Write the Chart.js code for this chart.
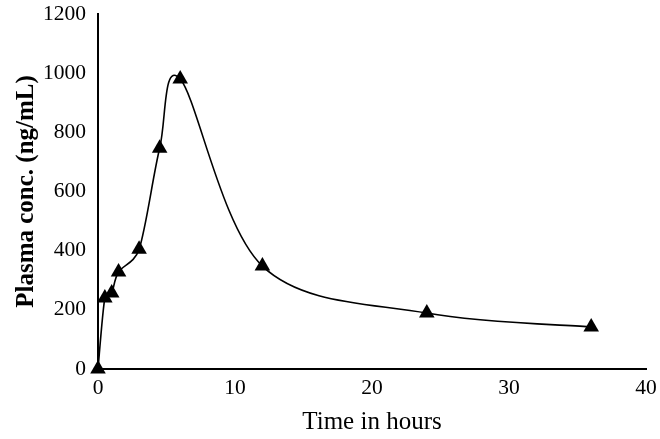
<!DOCTYPE html>
<html><head><meta charset="utf-8">
<script src="https://cdn.jsdelivr.net/npm/chart.js@4/dist/chart.umd.min.js"></script>
<style>html,body{margin:0;padding:0;background:#fff}#wrap{width:660px;height:439px}</style>
</head><body><div id="wrap"><canvas id="c" width="660" height="439"></canvas></div>
<script>
const timeHours = [0, 0.5, 1, 1.5, 3, 4.5, 6, 12, 24, 36];
const plasmaConc = [0, 240, 257, 328, 405, 746, 980, 348, 189, 142];
const xTicks = [0, 10, 20, 30, 40];
const yTicks = [0, 200, 400, 600, 800, 1000, 1200];
const xTitle = 'Time in hours';
const yTitle = 'Plasma conc. (ng/mL)';

const points = timeHours.map((t, i) => ({x: t, y: plasmaConc[i]}));
const serif = '"Liberation Serif", "Times New Roman", serif';

// Smooth curve (Catmull-Rom style Bezier, like a spreadsheet "smoothed line"),
// drawn through the points' positions as laid out by the chart's scales.
const smoothLine = {
  id: 'smoothLine',
  beforeDatasetsDraw(chart) {
    const meta = chart.getDatasetMeta(0);
    const p = meta.data.map(e => ({x: e.x, y: e.y}));
    const ctx = chart.ctx;
    const arm = (a, b, seg) => {
      let dx = (b.x - a.x) / 6, dy = (b.y - a.y) / 6;
      const len = Math.hypot(dx, dy), lim = seg / 2;
      if (len > lim && len > 0) { dx *= lim / len; dy *= lim / len; }
      return {dx, dy};
    };
    ctx.save();
    ctx.beginPath();
    ctx.moveTo(p[0].x, p[0].y);
    for (let i = 0; i < p.length - 1; i++) {
      const p0 = p[i - 1] || p[i];
      const p1 = p[i];
      const p2 = p[i + 1];
      const p3 = p[i + 2] || p[i + 1];
      const seg = Math.hypot(p2.x - p1.x, p2.y - p1.y);
      const a1 = arm(p0, p2, seg), a2 = arm(p1, p3, seg);
      ctx.bezierCurveTo(p1.x + a1.dx, p1.y + a1.dy, p2.x - a2.dx, p2.y - a2.dy, p2.x, p2.y);
    }
    ctx.strokeStyle = '#000';
    ctx.lineWidth = 1.6;
    ctx.stroke();
    ctx.restore();
  }
};

new Chart(document.getElementById('c'), {
  type: 'scatter',
  data: {datasets: [{
    data: points,
    showLine: false,
    clip: false,
    borderColor: '#000',
    backgroundColor: '#000',
    pointStyle: 'triangle',
    pointRadius: 9,
    pointBorderWidth: 0
  }]},
  plugins: [smoothLine],
  options: {
    responsive: false,
    animation: false,
    layout: {padding: {top: 14, right: 14, left: 12, bottom: 0}},
    plugins: {legend: {display: false}, tooltip: {enabled: false}},
    scales: {
      x: {
        type: 'linear', min: 0, max: 40,
        afterBuildTicks: s => { s.ticks = xTicks.map(v => ({value: v})); },
        afterFit: s => { s.height = 70; s.paddingLeft = 0; s.paddingRight = 0; },
        grid: {display: false, drawTicks: false},
        border: {display: true, color: '#000', width: 2},
        ticks: {color: '#000', font: {family: serif, size: 21.5}, padding: 6, maxRotation: 0,
                callback: v => String(v)},
        title: {display: true, text: xTitle, color: '#000', font: {family: serif, size: 25}, padding: {top: 4, bottom: 2}}
      },
      y: {
        type: 'linear', min: 0, max: 1200,
        afterBuildTicks: s => { s.ticks = yTicks.map(v => ({value: v})); },
        afterFit: s => { s.width = 86; s.paddingTop = 0; s.paddingBottom = 0; },
        grid: {display: false, drawTicks: false},
        border: {display: true, color: '#000', width: 2},
        ticks: {color: '#000', font: {family: serif, size: 21.5}, padding: 12,
                callback: v => String(v)},
        title: {display: true, text: yTitle, color: '#000', font: {family: serif, size: 25, weight: 'bold'}, padding: {top: 0, bottom: 2}}
      }
    }
  }
});
</script></body></html>
